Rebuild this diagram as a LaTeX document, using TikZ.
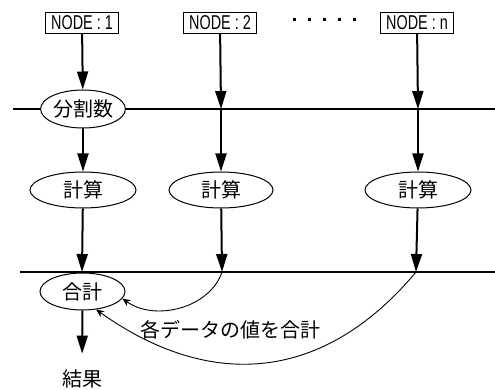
\documentclass[tikz,border=0pt]{standalone}
\usepackage{fontspec}
\setmainfont{Noto Sans CJK JP}
\newfontfamily\nodefont[FakeStretch=0.72]{Liberation Sans}
\usetikzlibrary{shapes.geometric,arrows.meta}
\begin{document}
\begin{tikzpicture}[x=1pt,y=-1pt,
  every node/.style={font=\fontsize{20pt}{24pt}\selectfont},
  idbox/.style={draw,line width=1pt,inner xsep=6pt,inner ysep=0pt,minimum height=21pt,font=\nodefont\fontsize{20pt}{20pt}\selectfont},
  oval/.style={draw,ellipse,line width=1pt,fill=white,inner sep=0pt},
  bigarrow/.style={line width=2pt,-{Triangle[length=18pt,width=11pt]}},
  thinarrow/.style={line width=0.9pt,-{Stealth[length=8pt,width=7pt]}},
  rule/.style={line width=2pt}]
\path[use as bounding box] (0,0) rectangle (495,390);
% horizontal rules
\coordinate (r1l) at (13,109);
\coordinate (r1r) at (495,109);
\coordinate (r2l) at (20,272);
\coordinate (r2r) at (495,272);
\draw[rule] (r1l) -- (r1r);
\draw[rule] (r2l) -- (r2r);
% junctions
\coordinate (j12) at (221,109);
\coordinate (j1n) at (418,109);
\coordinate (j21) at (82,272);
\coordinate (j22) at (222,272);
\coordinate (j2n) at (416,272);
% top boxes
\node[idbox] (n1) at (82,23) {NODE\kern4pt:\kern4pt1};
\node[idbox] (n2) at (220,23) {NODE\kern4pt:\kern4pt2};
\node[idbox] (nn) at (417,23) {NODE\kern4pt:\kern4pt n};
% dots
\foreach \i in {294,309,324,339,354}{
  \fill (\i-1.5,18.5) rectangle (\i+1.5,21.5);
}
% ellipses
\node[oval,minimum width=76pt,minimum height=38pt] (div) at (83,109) {分割数};
\node[oval,minimum width=106pt,minimum height=36pt] (c1) at (83,190) {計算};
\node[oval,minimum width=104pt,minimum height=36pt] (c2) at (221,190) {計算};
\node[oval,minimum width=106pt,minimum height=36pt] (cn) at (418,190) {計算};
\node[oval,minimum width=85pt,minimum height=37pt] (sum) at (82.5,291.5) {合計};
\node[inner sep=2pt] (res) at (82,379) {結果};
\node[inner sep=0pt] (lbl) at (230,330) {各データの値を合計};
% arrows
\draw[bigarrow] (n1) -- (div);
\draw[bigarrow] (n2) -- (j12);
\draw[bigarrow] (nn) -- (j1n);
\draw[bigarrow] (div) -- (c1);
\draw[bigarrow] (j12) -- (c2);
\draw[bigarrow] (j1n) -- (cn);
\draw[bigarrow] (c1) -- (j21);
\draw[bigarrow] (c2) -- (j22);
\draw[bigarrow] (cn) -- (j2n);
\draw[bigarrow,shorten >=14pt] (sum) -- (res);
% curves
\draw[thinarrow] (j22) .. controls (210,308) and (155,322) .. (sum.-10);
\draw[thinarrow] (j2n) .. controls (325,381) and (212,392) .. (sum.-53);
\end{tikzpicture}
\end{document}
